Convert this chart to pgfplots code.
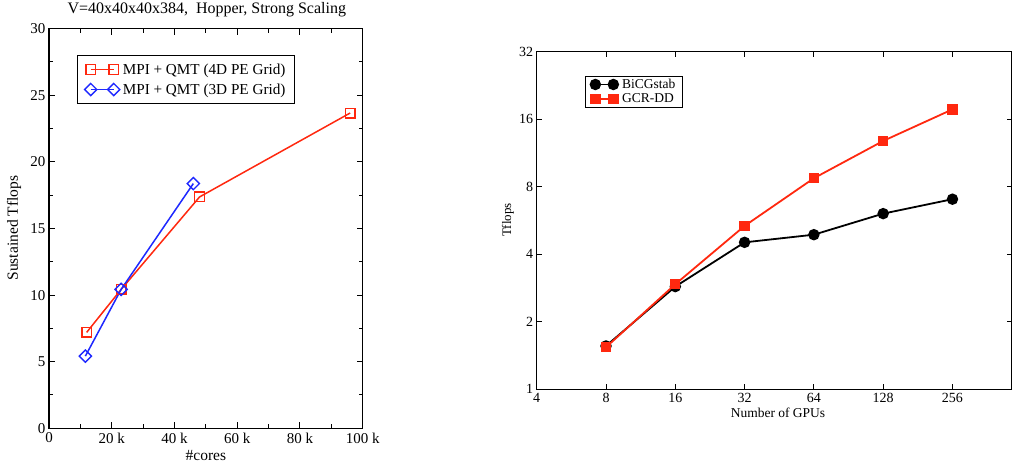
\documentclass[border=0pt]{standalone}
\usepackage{pgfplots}
\pgfplotsset{compat=1.18}
\usepackage{fontspec}
\setmainfont{Liberation Serif}
\definecolor{gred}{RGB}{255,40,15}
\definecolor{gblue}{RGB}{30,40,255}
\begin{document}
\begin{tikzpicture}
\useasboundingbox (0pt,0pt) rectangle (1012pt,465pt);
\begin{axis}[
  at={(49pt,36.7pt)}, anchor=south west,
  scale only axis, width=313.7pt, height=399.6pt,
  xmin=0, xmax=100, ymin=0, ymax=30,
  xtick={0,20,40,60,80,100},
  xticklabels={0,20 k,40 k,60 k,80 k,100 k},
  ytick={0,5,10,15,20,25,30},
  yticklabels={0,5,10,15,20,25,30},
  minor x tick num=1, minor y tick num=1,
  tick align=inside,
  major tick length=6pt, minor tick length=4pt,
  axis line style={line width=1.1pt},
  every tick/.style={black,line width=1pt},
  tick label style={font=\fontsize{15}{15}\selectfont},
  xticklabel style={yshift=-1pt},
  title={V=40x40x40x384,\ \ Hopper, Strong Scaling},
  title style={at={(axis description cs:0.503,1.049)},anchor=center,yshift=-7pt,font=\fontsize{16}{16}\selectfont},
  xlabel={\#cores},
  xlabel style={at={(axis description cs:0.5,-0.067)},anchor=center,font=\fontsize{15.5}{15}\selectfont},
  ylabel={Sustained Tflops},
  ylabel style={at={(axis description cs:-0.1116,0.501)},anchor=center,rotate=0,font=\fontsize{15.5}{15}\selectfont},
  legend style={at={(axis description cs:0.090,0.934)},anchor=north west,
    draw=black,line width=0.8pt,font=\fontsize{15.2}{15}\selectfont,
    inner xsep=7pt,inner ysep=6pt,row sep=4pt,column sep=1pt},
  legend cell align=left,
  legend image code/.code={\draw[mark repeat=2,mark phase=1,#1] plot coordinates {(0pt,0pt) (11.5pt,0pt) (23pt,0pt)};},
]
\addplot[gred, line width=1.5pt, mark=square, mark size=4.8pt, mark options={solid,line width=1.4pt,fill=none}]
  coordinates {(12,7.2) (23,10.43) (48,17.37) (96,23.67)};
\addlegendentry{MPI + QMT (4D PE Grid)}
\addplot[gblue, line width=1.5pt, mark=square, mark size=4.3pt, mark options={solid,rotate=45,line width=1.4pt,fill=none}]
  coordinates {(11.6,5.42) (23,10.43) (46,18.37)};
\addlegendentry{MPI + QMT (3D PE Grid)}
\end{axis}

\begin{axis}[
  at={(536.7pt,75.7pt)}, anchor=south west,
  scale only axis, width=475pt, height=337.6pt,
  xmode=log, ymode=log, log basis x=2, log basis y=2,
  xmin=4, xmax=463, ymin=1, ymax=32,
  xtick={4,8,16,32,64,128,256},
  xticklabels={4,8,16,32,64,128,256},
  ytick={1,2,4,8,16,32},
  yticklabels={1,2,4,8,16,32},
  minor tick num=0,
  tick align=inside,
  major tick length=5pt,
  axis line style={line width=0.9pt},
  every tick/.style={black,line width=0.9pt},
  tick label style={font=\fontsize{14}{14}\selectfont},
  xlabel={Number of GPUs},
  xlabel style={at={(axis description cs:0.508,-0.0711)},anchor=center,font=\fontsize{13.5}{13}\selectfont},
  ylabel={Tflops},
  ylabel style={at={(axis description cs:-0.0604,0.5015)},anchor=center,font=\fontsize{13}{13}\selectfont},
  legend style={at={(axis description cs:0.102,0.929)},anchor=north west,
    draw=black,line width=0.8pt,font=\fontsize{13.5}{13.5}\selectfont,
    inner xsep=5pt,inner ysep=1pt,row sep=0pt,column sep=2pt},
  legend cell align=left,
  legend image code/.code={\draw[mark repeat=2,mark phase=1,#1] plot coordinates {(0pt,0pt) (9pt,0pt) (18pt,0pt)};},
]
\addplot[black, line width=1.8pt, mark=*, mark size=4.8pt, mark options={solid,fill=black}]
  coordinates {(8,1.56) (16,2.87) (32,4.52) (64,4.89) (128,6.07) (256,7.04)};
\addlegendentry{BiCGstab}
\addplot[gred, line width=1.8pt, mark=square*, mark size=4.3pt, mark options={solid,fill=gred}]
  coordinates {(8,1.54) (16,2.94) (32,5.35) (64,8.73) (128,12.8) (256,17.7)};
\addlegendentry{GCR-DD}
\end{axis}
\end{tikzpicture}
\end{document}
